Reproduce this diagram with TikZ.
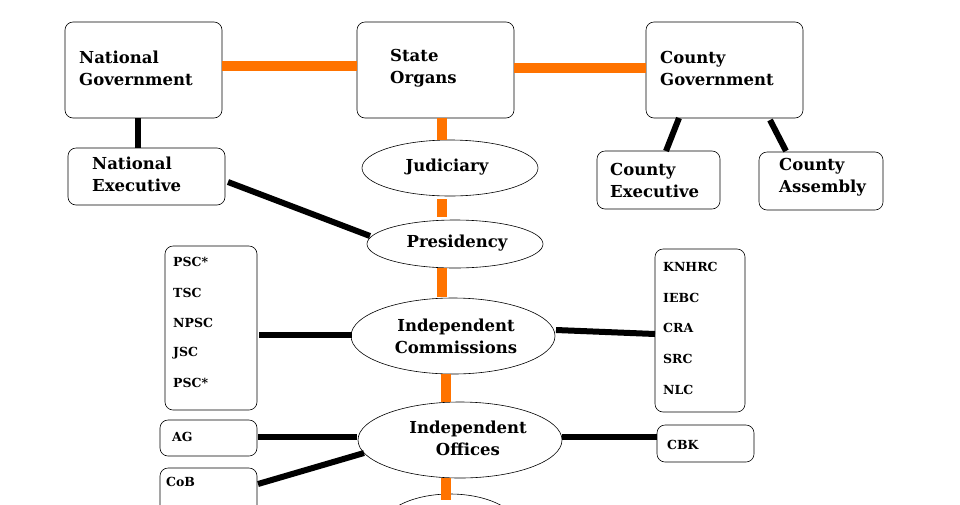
\documentclass[tikz,border=0pt]{standalone}
\usepackage{fontspec}
\setmainfont{DejaVu Serif}
\usetikzlibrary{shapes.geometric}
\begin{document}
\begin{tikzpicture}[x=1pt,y=-1pt,
 box/.style={draw,rounded corners=8pt,line width=0.6pt},
 ell/.style={draw,ellipse,line width=0.6pt},
 bf/.style={font=\bfseries\fontsize{16.5}{22}\selectfont,inner sep=0},
 big/.style={bf,align=left,anchor=west},
 small/.style={font=\bfseries\fontsize{12.5}{14}\selectfont,anchor=west,inner sep=0},
 org/.style={draw=orange!90!red,line width=10pt},
 blk/.style={draw=black,line width=6pt}]
\useasboundingbox (0,0) rectangle (960,504);
\clip (0,0) rectangle (960,504);
% boxes
\node[box,minimum width=157,minimum height=96] (ng) at (143.5,70) {};
\node[box,minimum width=157,minimum height=96] (so) at (435.5,70) {};
\node[box,minimum width=157,minimum height=96] (cg) at (724.5,70) {};
\node[big] at (79,68) {National\\Government};
\node[big] at (390,68) {State\\Organs};
\node[big] at (660,68) {County\\Government};
\node[box,minimum width=157,minimum height=57] (ne) at (146.5,176.5) {};
\node[big] at (92,174) {National\\Executive};
\node[box,minimum width=123,minimum height=58] (ce) at (658.5,180) {};
\node[big] at (610,180) {County\\Executive};
\node[box,minimum width=124,minimum height=58] (ca) at (821,181) {};
\node[big] at (779,177) {County\\Assembly};
% ellipses
\node[ell,minimum width=176,minimum height=56] (jud) at (450,168) {};
\node[bf] at (447,167) {Judiciary};
\node[ell,minimum width=176,minimum height=48] (pres) at (455,244) {};
\node[bf] at (457,243) {Presidency};
\node[ell,minimum width=204,minimum height=76] (ic) at (453,336) {};
\node[bf,align=center] at (456,336) {Independent\\Commissions};
\node[ell,minimum width=204,minimum height=76] (io) at (460,440) {};
\node[bf,align=center] at (468,438) {Independent\\Offices};
\node[ell,minimum width=140,minimum height=72] (bot) at (450,530) {};
% lists
\node[box,minimum width=92,minimum height=164] (pl) at (211,328) {};
\foreach \t/\y in {PSC*/262,TSC/293,NPSC/323,JSC/353,PSC*/383}
  \node[small] at (173,\y) {\t};
\node[box,minimum width=90,minimum height=163] (pr) at (700,330.5) {};
\foreach \t/\y in {KNHRC/267,IEBC/298,CRA/328,SRC/359,NLC/390}
  \node[small] at (663,\y) {\t};
\node[box,minimum width=97,minimum height=36] (ag) at (208.5,438) {};
\node[small] at (172,437) {AG};
\node[box,minimum width=97,minimum height=50] (cob) at (208.5,493) {};
\node[small] at (166,482) {CoB};
\node[box,minimum width=97,minimum height=37] (cbk) at (705.5,443.5) {};
\node[small] at (667,445) {CBK};
% orange connectors
\draw[org] (ng.east |- 0,66) -- (so.west |- 0,66);
\draw[org] (so.east |- 0,68) -- (cg.west |- 0,68);
\draw[org] (442,118) -- (jud.north -| 442,0);
\draw[org] (442,199) -- (442,217);
\draw[org] (442,268) -- (442,297);
\draw[org] (446,374) -- (446,402);
\draw[org] (446,478) -- (446,500);
% black connectors
\draw[blk] (138,118) -- (138,148);
\draw[blk] (679,118) -- (666,151);
\draw[blk] (770,120) -- (786,151);
\draw[blk] (228,182) -- (370,236);
\draw[blk] (259,335) -- (352,335);
\draw[blk] (556,330) -- (655,334);
\draw[blk] (258,437) -- (357,437);
\draw[blk] (258,484) -- (364,453);
\draw[blk] (562,437) -- (657,437);
\end{tikzpicture}
\end{document}
